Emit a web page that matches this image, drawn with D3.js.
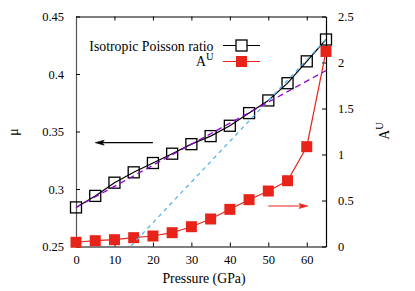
<!DOCTYPE html>
<html>
<head>
<meta charset="utf-8">
<script src="https://cdn.jsdelivr.net/npm/d3@7"></script>
<style>
  html, body { margin: 0; padding: 0; background: #fff; }
</style>
</head>
<body>
<script>
// ---- data ----
const pressure = [0, 5, 10, 15, 20, 25, 30, 35, 40, 45, 50, 55, 60, 65];
const poisson = [0.284, 0.294, 0.3055, 0.3145, 0.3226, 0.3307, 0.339, 0.346, 0.355, 0.366, 0.377, 0.392, 0.411, 0.430];
const anisotropy = [0.046, 0.063, 0.074, 0.096, 0.114, 0.15, 0.215, 0.299, 0.404, 0.509, 0.603, 0.715, 1.085, 2.12];
const fitLowP = [0, 65];
const fitLowMu = [0.284, 0.403];
const fitHighP = [14.3, 65];
const fitHighMu = [0.2505, 0.430];
const xTicks = [0, 10, 20, 30, 40, 50, 60];
const yLeftTicks = [0.25, 0.3, 0.35, 0.4, 0.45];
const yRightTicks = [0, 0.5, 1, 1.5, 2, 2.5];
const legendLabels = ["Isotropic Poisson ratio", "A"];

const W = 415, H = 291;
const FONT = "'Liberation Serif', 'Times New Roman', serif";
const FS = "12.5px", FL = "13.8px", FSUP = "10.5px";
const m = { left: 76, right: 326, top: 16.5, bottom: 246.5 };
const colBlack = "#000", colRed = "#e8241a", colBlue = "#56b4e9", colPurple = "#9400d3";

const svg = d3.select("body").append("svg").attr("width", W).attr("height", H)
  .style("display", "block").style("font-family", FONT);

const x = d3.scaleLinear().domain([0, 65]).range([m.left, m.right]);
const yL = d3.scaleLinear().domain([0.25, 0.45]).range([m.bottom, m.top]);
const yR = d3.scaleLinear().domain([0, 2.5]).range([m.bottom, m.top]);

svg.append("defs").append("clipPath").attr("id", "clip")
  .append("rect").attr("x", m.left).attr("y", m.top)
  .attr("width", m.right - m.left).attr("height", m.bottom - m.top);

const tickLen = 4;
// axes
const axB = svg.append("g").attr("transform", `translate(0,${m.bottom})`)
  .call(d3.axisBottom(x).tickValues(xTicks).tickFormat(d3.format("d")).tickSizeInner(-tickLen).tickSizeOuter(0).tickPadding(9));
const axT = svg.append("g").attr("transform", `translate(0,${m.top})`)
  .call(d3.axisTop(x).tickValues(xTicks).tickFormat("").tickSizeInner(-tickLen).tickSizeOuter(0));
const axL = svg.append("g").attr("transform", `translate(${m.left},0)`)
  .call(d3.axisLeft(yL).tickValues(yLeftTicks).tickFormat(d => d3.format(".2~f")(d)).tickSizeInner(-tickLen).tickSizeOuter(0).tickPadding(12));
const axR = svg.append("g").attr("transform", `translate(${m.right},0)`)
  .call(d3.axisRight(yR).tickValues(yRightTicks).tickFormat(d => d3.format(".1~f")(d)).tickSizeInner(-tickLen).tickSizeOuter(0).tickPadding(12));
[axB, axT, axL, axR].forEach(a => {
  a.attr("font-family", null).attr("font-size", null);
  a.selectAll("path.domain").attr("stroke", "#000").attr("stroke-width", 1.2);
  a.selectAll(".tick line").attr("stroke", "#000").attr("stroke-width", 1);
  a.selectAll("text").style("font-family", FONT).style("font-size", FS).attr("fill", "#000");
});
axL.select("path.domain").attr("stroke", "#555");

// axis labels
svg.append("text").attr("x", 204).attr("y", 283.3)
  .attr("text-anchor", "middle").style("font-size", FL).text("Pressure (GPa)");
svg.append("text").attr("transform", `translate(18,132) rotate(-90)`)
  .attr("text-anchor", "middle").style("font-size", FL).text("μ");
const rl = svg.append("text").attr("transform", `translate(389,131) rotate(-90)`)
  .attr("text-anchor", "middle").style("font-size", FL);
rl.append("tspan").text("A");
rl.append("tspan").attr("dy", -6.5).style("font-size", FSUP).text("U");

// data lines
const lineL = d3.line().x((d, i) => x(pressure[i])).y(d => yL(d));
const lineR = d3.line().x((d, i) => x(pressure[i])).y(d => yR(d));
const ms = 11;

svg.append("path").attr("d", lineL(poisson)).attr("fill", "none").attr("stroke", colBlack).attr("stroke-width", 1.2);
svg.append("g").selectAll("rect").data(poisson).join("rect")
  .attr("x", (d, i) => x(pressure[i]) - ms / 2).attr("y", d => yL(d) - ms / 2)
  .attr("width", ms).attr("height", ms).attr("fill", "none").attr("stroke", colBlack).attr("stroke-width", 1.3);

svg.append("path").attr("d", lineR(anisotropy)).attr("fill", "none").attr("stroke", colRed).attr("stroke-width", 1.2);
svg.append("g").selectAll("rect").data(anisotropy).join("rect")
  .attr("x", (d, i) => x(pressure[i]) - ms / 2).attr("y", d => yR(d) - ms / 2)
  .attr("width", ms).attr("height", ms).attr("fill", colRed);

// fit lines
const fitLine = (ps, vs) => d3.line().x((d, i) => x(ps[i])).y(d => yL(d))(vs);
const gFit = svg.append("g").attr("clip-path", "url(#clip)");
gFit.append("path").attr("d", fitLine(fitHighP, fitHighMu)).attr("fill", "none")
  .attr("stroke", colBlue).attr("stroke-width", 1.3).attr("stroke-dasharray", "4,4");
gFit.append("path").attr("d", fitLine(fitLowP, fitLowMu)).attr("fill", "none")
  .attr("stroke", colPurple).attr("stroke-width", 1.3).attr("stroke-dasharray", "6,4");

// arrows
function arrow(x1, y1, x2, y2, col) {
  const g = svg.append("g");
  const dir = Math.sign(x2 - x1);
  g.append("line").attr("x1", x1).attr("y1", y1).attr("x2", x2 - dir * 6).attr("y2", y2)
    .attr("stroke", col).attr("stroke-width", 1.1);
  g.append("path").attr("d", `M${x2},${y2} L${x2 - dir * 9},${y2 - 2.5} L${x2 - dir * 7},${y2} L${x2 - dir * 9},${y2 + 2.5} Z`)
    .attr("fill", col).attr("stroke", col).attr("stroke-width", 0.6);
}
arrow(x(20), yL(0.3403), x(5), yL(0.3403), colBlack);
arrow(x(50), yR(0.44), x(60.3), yR(0.44), colRed);

// legend
const lx = 213.5, ly1 = 45.5, ly2 = 61.5;
svg.append("text").attr("x", lx).attr("y", 50.7).attr("text-anchor", "end").style("font-size", FL).text(legendLabels[0]);
const t2 = svg.append("text").attr("x", lx).attr("y", 66).attr("text-anchor", "end").style("font-size", FL);
t2.append("tspan").text(legendLabels[1]);
t2.append("tspan").attr("dy", -6.5).style("font-size", FSUP).text("U");
svg.append("line").attr("x1", 223).attr("x2", 260).attr("y1", ly1).attr("y2", ly1).attr("stroke", colBlack).attr("stroke-width", 1.2);
svg.append("rect").attr("x", 241.5 - ms / 2).attr("y", ly1 - ms / 2).attr("width", ms).attr("height", ms)
  .attr("fill", "#fff").attr("stroke", colBlack).attr("stroke-width", 1.3);
svg.append("line").attr("x1", 223).attr("x2", 260).attr("y1", ly2).attr("y2", ly2).attr("stroke", colRed).attr("stroke-width", 1.2);
svg.append("rect").attr("x", 241.5 - ms / 2).attr("y", ly2 - ms / 2).attr("width", ms).attr("height", ms).attr("fill", colRed);
</script>
</body>
</html>
